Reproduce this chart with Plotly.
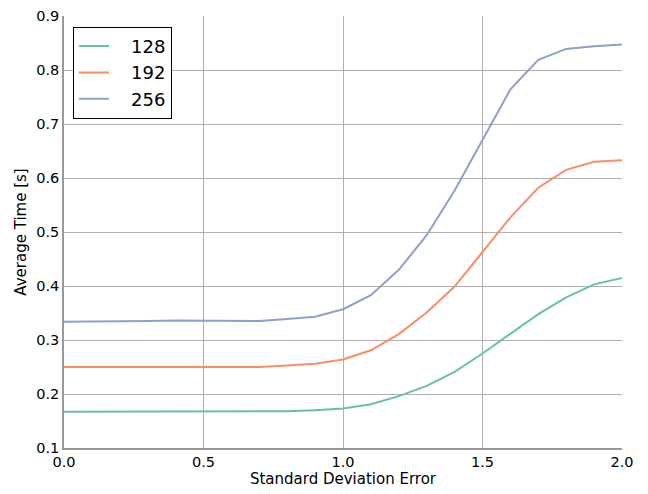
import plotly.graph_objects as go

x_vals = [round(i * 0.1, 1) for i in range(21)]
series_names = ["128", "192", "256"]
y128 = [0.167, 0.167, 0.167, 0.167, 0.167, 0.167, 0.167, 0.167, 0.168, 0.170, 0.173,
        0.181, 0.196, 0.215, 0.241, 0.275, 0.312, 0.348, 0.379, 0.403, 0.415]
y192 = [0.250, 0.250, 0.250, 0.250, 0.250, 0.251, 0.250, 0.250, 0.253, 0.256, 0.264,
        0.281, 0.311, 0.351, 0.399, 0.462, 0.527, 0.582, 0.615, 0.630, 0.633]
y256 = [0.334, 0.334, 0.334, 0.335, 0.336, 0.336, 0.335, 0.335, 0.339, 0.343, 0.357,
        0.383, 0.430, 0.494, 0.577, 0.670, 0.764, 0.819, 0.839, 0.844, 0.847]
colors = ["#66c2a5", "#fc8d62", "#8da0cb"]
x_ticks = [0.0, 0.5, 1.0, 1.5, 2.0]
y_ticks = [0.1, 0.2, 0.3, 0.4, 0.5, 0.6, 0.7, 0.8, 0.9]

fig = go.Figure()
for name, ys, c in zip(series_names, [y128, y192, y256], colors):
    fig.add_trace(go.Scatter(x=x_vals, y=ys, mode="lines",
                             name="\u00a0\u00a0\u00a0" + name,
                             line=dict(color=c, width=2)))

font = "DejaVu Sans"
# page has an 8px body margin, so the figure is sized to fit inside the window
fig.update_layout(
    width=640, height=486,
    margin=dict(l=56, r=26, t=8, b=46),
    paper_bgcolor="white", plot_bgcolor="white",
    font=dict(family=font, size=14, color="black"),
    showlegend=True,
    legend=dict(x=0.016, y=0.975, xanchor="left", yanchor="top",
                bordercolor="black", borderwidth=1, bgcolor="white",
                font=dict(family=font, size=18, color="black"),
                itemwidth=30, tracegroupgap=0),
    xaxis=dict(range=[0, 2], tickvals=x_ticks, ticktext=[f"{v:.1f}" for v in x_ticks],
               showgrid=True, gridcolor="#b0b0b0", gridwidth=1,
               showline=True, linecolor="#999999", linewidth=1.5,
               zeroline=False, ticks="", ticklen=0, automargin=False,
               tickfont=dict(size=14.5),
               title=dict(text="Standard Deviation Error", font=dict(size=15), standoff=4)),
    yaxis=dict(range=[0.1, 0.9], tickvals=y_ticks, ticktext=[f"{v:.1f}" for v in y_ticks],
               showgrid=True, gridcolor="#b0b0b0", gridwidth=1,
               showline=True, linecolor="#999999", linewidth=1.5,
               zeroline=False, ticks="", ticklen=0, automargin=False,
               tickfont=dict(size=14.5),
               title=dict(text="Average Time [s]", font=dict(size=15), standoff=6)),
)
fig.write_html("out.html")
